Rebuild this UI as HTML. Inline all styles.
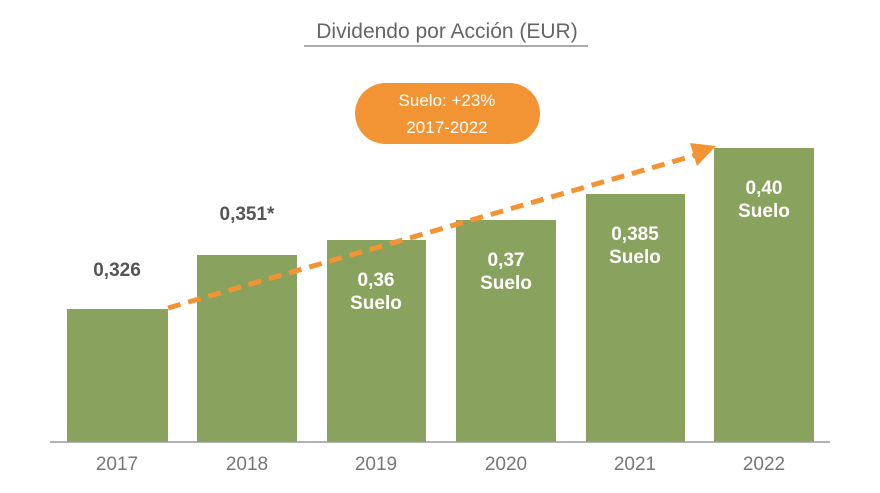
<!DOCTYPE html>
<html><head><meta charset="utf-8"><style>
html,body{margin:0;padding:0;background:#fff;}
svg{display:block;font-family:"Liberation Sans",sans-serif;}
</style></head><body>
<svg width="880" height="493" viewBox="0 0 880 493">
<text x="447" y="38" text-anchor="middle" font-size="21" fill="#666">Dividendo por Acción (EUR)</text>
<line x1="304" y1="46" x2="588" y2="46" stroke="#aaa" stroke-width="2"/>
<g fill="#89a25e">
<rect x="67" y="309" width="101" height="133"/>
<rect x="197" y="255" width="100" height="187"/>
<rect x="327" y="240" width="99" height="202"/>
<rect x="456" y="220" width="100" height="222"/>
<rect x="586" y="194" width="99" height="248"/>
<rect x="714" y="148" width="100" height="294"/>
</g>
<line x1="50" y1="442" x2="830" y2="442" stroke="#999" stroke-width="1.5"/>
<line x1="168" y1="308" x2="696" y2="155" stroke="#f39434" stroke-width="5" stroke-dasharray="13,8"/>
<polygon points="716,146 690,143 697,166" fill="#f39434"/>
<rect x="355" y="83" width="185" height="61" rx="30.5" fill="#f39434"/>
<g fill="#fff" font-size="17" text-anchor="middle">
<text x="447" y="106">Suelo: +23%</text>
<text x="447" y="133">2017-2022</text>
</g>
<g fill="#555" font-size="19" font-weight="bold" text-anchor="middle">
<text x="117" y="276">0,326</text>
<text x="247" y="220">0,351*</text>
</g>
<g fill="#fff" font-size="19" font-weight="bold" text-anchor="middle">
<text x="376" y="286">0,36</text><text x="376" y="309">Suelo</text>
<text x="506" y="266">0,37</text><text x="506" y="289">Suelo</text>
<text x="635" y="240">0,385</text><text x="635" y="263">Suelo</text>
<text x="764" y="194">0,40</text><text x="764" y="217">Suelo</text>
</g>
<g fill="#777" font-size="19" text-anchor="middle">
<text x="117" y="470">2017</text>
<text x="247" y="470">2018</text>
<text x="376" y="470">2019</text>
<text x="506" y="470">2020</text>
<text x="635" y="470">2021</text>
<text x="764" y="470">2022</text>
</g>
</svg>
</body></html>
